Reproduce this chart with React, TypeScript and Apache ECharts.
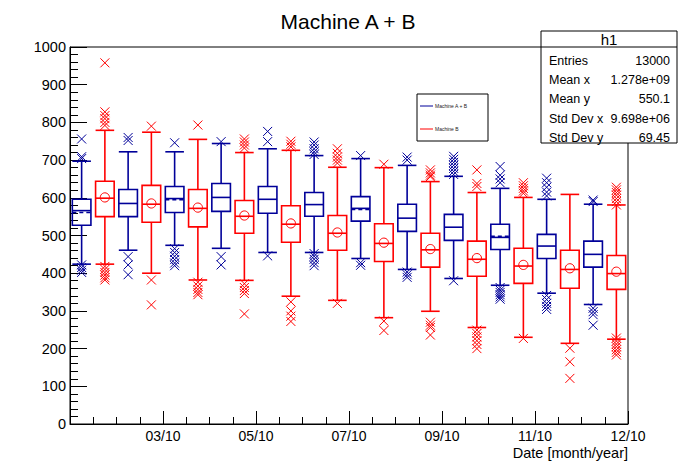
import React, { useEffect, useRef } from "react";
import * as echarts from "echarts";

// Monthly bins (Jan..Dec 2010); x axis is in months from the first bin
const months = ["01/10", "02/10", "03/10", "04/10", "05/10", "06/10", "07/10", "08/10", "09/10", "10/10", "11/10", "12/10"];
const xTickLabels = ["", "03/10", "05/10", "07/10", "09/10", "11/10", "12/10"];
const yTicks = [0, 100, 200, 300, 400, 500, 600, 700, 800, 900, 1000];

// Candle statistics: [whisker low, Q1, median, Q3, whisker high, mean]
const machineABBoxes = [
  [424, 527, 566, 596, 697, 561],
  [461, 550, 585, 622, 722, 585],
  [474, 561, 598, 630, 722, 595],
  [466, 564, 601, 638, 744, 601],
  [455, 559, 596, 630, 730, 596],
  [455, 551, 582, 614, 712, 582],
  [439, 538, 572, 603, 704, 569],
  [410, 511, 546, 583, 686, 546],
  [386, 487, 522, 556, 657, 522],
  [368, 463, 495, 530, 625, 498],
  [347, 439, 472, 503, 596, 472],
  [317, 416, 450, 485, 583, 450],
];
const machineBBoxes = [
  [424, 550, 599, 644, 779, 601],
  [400, 535, 583, 633, 774, 585],
  [382, 523, 572, 622, 755, 574],
  [381, 506, 551, 593, 720, 553],
  [339, 482, 530, 579, 726, 532],
  [328, 461, 506, 553, 681, 508],
  [282, 431, 479, 531, 680, 481],
  [299, 416, 462, 506, 643, 464],
  [256, 392, 437, 485, 614, 440],
  [230, 373, 419, 466, 601, 422],
  [214, 360, 410, 461, 609, 413],
  [225, 357, 399, 447, 581, 404],
];

// Outliers per month
const machineABOutliers = [
  [756, 709, 704, 422, 415, 408, 402],
  [760, 752, 444, 422, 396],
  [746, 465, 455, 445, 436, 427, 420],
  [749, 444, 422],
  [776, 749, 446],
  [748, 740, 730, 722, 715, 452, 445, 437, 428, 420],
  [712, 428, 421],
  [708, 700, 403, 396, 389],
  [710, 702, 694, 686, 678, 670, 662, 380],
  [683, 660, 650, 640, 362, 355, 349, 343, 337, 331],
  [652, 640, 628, 615, 605, 341, 330, 320, 312, 304],
  [594, 590, 307, 298, 290, 262],
];
const machineBOutliers = [
  [958, 828, 818, 810, 800, 792, 418, 410, 402, 395, 388, 382],
  [790, 382, 316],
  [793, 376, 366, 357, 349, 343],
  [756, 748, 740, 732, 372, 362, 354, 346, 292],
  [750, 742, 735, 324, 300, 286, 272],
  [730, 718, 708, 700, 692, 320],
  [689, 273, 248],
  [674, 666, 660, 656, 270, 262, 256, 236],
  [674, 638, 630, 249, 240, 231, 221, 211, 200],
  [640, 632, 625, 618, 612, 227],
  [201, 165, 121],
  [628, 621, 614, 607, 598, 590, 581, 228, 220, 212, 205, 197, 190, 183],
];

const statLabels = ["Entries", "Mean x", "Mean y", "Std Dev x", "Std Dev y"];
const statValues = ["13000", "1.278e+09", "550.1", "9.698e+06", "69.45"];

const seriesNames = ["Machine A + B", "Machine B"];
const BLUE = "#000099";
const RED = "#ff0000";
const FONT = "'Liberation Sans', Arial, Helvetica, sans-serif";

function candleRenderer(color: string, meanAsCircle: boolean) {
  return (params: any, api: any) => {
    const x = api.value(0);
    const low = api.value(1), q1 = api.value(2), med = api.value(3), q3 = api.value(4), high = api.value(5), mean = api.value(6);
    const cx = api.coord([x, 0])[0];
    const y = (v: number) => api.coord([x, v])[1];
    const half = api.size([0.4, 0])[0] / 2;
    const st = { stroke: color, lineWidth: 1.6, fill: "none" };
    const children: any[] = [
      { type: "line", shape: { x1: cx, y1: y(high), x2: cx, y2: y(q3) }, style: st },
      { type: "line", shape: { x1: cx, y1: y(q1), x2: cx, y2: y(low) }, style: st },
      { type: "line", shape: { x1: cx - half, y1: y(high), x2: cx + half, y2: y(high) }, style: st },
      { type: "line", shape: { x1: cx - half, y1: y(low), x2: cx + half, y2: y(low) }, style: st },
      { type: "rect", shape: { x: cx - half, y: y(q3), width: 2 * half, height: y(q1) - y(q3) }, style: st },
      { type: "line", shape: { x1: cx - half, y1: y(med), x2: cx + half, y2: y(med) }, style: st },
    ];
    if (meanAsCircle) {
      children.push({ type: "circle", shape: { cx, cy: y(mean), r: 4.6 }, style: { stroke: color, lineWidth: 1, fill: "none" } });
    } else if (Math.abs(mean - med) > 0.5) {
      children.push({
        type: "line",
        shape: { x1: cx - half, y1: y(mean), x2: cx + half, y2: y(mean) },
        style: { stroke: color, lineWidth: 1.6, lineDash: [4, 3] },
      });
    }
    return { type: "group", children };
  };
}

function crossRenderer(color: string) {
  return (params: any, api: any) => {
    const p = api.coord([api.value(0), api.value(1)]);
    const s = 4.5;
    const st = { stroke: color, lineWidth: 1 };
    return {
      type: "group",
      children: [
        { type: "line", shape: { x1: p[0] - s, y1: p[1] - s, x2: p[0] + s, y2: p[1] + s }, style: st },
        { type: "line", shape: { x1: p[0] - s, y1: p[1] + s, x2: p[0] + s, y2: p[1] - s }, style: st },
      ],
    };
  };
}

export default function App() {
  const ref = useRef<HTMLDivElement>(null);

  useEffect(() => {
    if (!ref.current) return;
    const chart = echarts.init(ref.current, undefined, { renderer: "svg" });

    const offsets = [0.25, 0.75];
    const boxSets = [machineABBoxes, machineBBoxes];
    const outlierSets = [machineABOutliers, machineBOutliers];
    const colors = [BLUE, RED];

    const series: any[] = [];
    boxSets.forEach((boxes, k) => {
      series.push({
        type: "custom",
        name: seriesNames[k],
        renderItem: candleRenderer(colors[k], k === 1),
        encode: { x: 0, y: [1, 2, 3, 4, 5, 6] },
        data: boxes.map((b, i) => [i + offsets[k], ...b]),
        z: 3,
      });
      const pts: number[][] = [];
      outlierSets[k].forEach((list, i) => list.forEach((v) => pts.push([i + offsets[k], v])));
      series.push({
        type: "custom",
        name: seriesNames[k] + " outliers",
        renderItem: crossRenderer(colors[k]),
        encode: { x: 0, y: 1 },
        data: pts,
        z: 2,
      });
    });

    const statX = 541, statY = 31, statW = 136, statH = 112;
    const statGraphics: any[] = [
      { type: "rect", z: 100, shape: { x: statX, y: statY, width: statW, height: statH }, style: { fill: "#fff", stroke: "#000", lineWidth: 1 } },
      { type: "line", z: 101, shape: { x1: statX, y1: 47, x2: statX + statW, y2: 47 }, style: { stroke: "#000", lineWidth: 1 } },
      { type: "text", z: 101, style: { text: "h1", x: statX + statW / 2, y: 39.5, textAlign: "center", textVerticalAlign: "middle", fontSize: 15, fontFamily: FONT, fill: "#000" } },
    ];
    statLabels.forEach((lab, i) => {
      const yy = 61 + i * 19.2;
      statGraphics.push({ type: "text", z: 101, style: { text: lab, x: 549, y: yy, textAlign: "left", textVerticalAlign: "middle", fontSize: 12.5, fontFamily: FONT, fill: "#000" } });
      statGraphics.push({ type: "text", z: 101, style: { text: statValues[i], x: 670, y: yy, textAlign: "right", textVerticalAlign: "middle", fontSize: 12.5, fontFamily: FONT, fill: "#000" } });
    });

    const legendGraphics: any[] = [
      { type: "rect", z: 100, shape: { x: 417, y: 94, width: 71, height: 47 }, style: { fill: "#fff", stroke: "#000", lineWidth: 1 } },
      { type: "line", z: 101, shape: { x1: 420, y1: 106, x2: 433, y2: 106 }, style: { stroke: BLUE, lineWidth: 1 } },
      { type: "text", z: 101, style: { text: seriesNames[0], x: 435, y: 106, textVerticalAlign: "middle", fontSize: 5, fontFamily: FONT, fill: "#222" } },
      { type: "line", z: 101, shape: { x1: 420, y1: 129, x2: 433, y2: 129 }, style: { stroke: RED, lineWidth: 1 } },
      { type: "text", z: 101, style: { text: seriesNames[1], x: 435, y: 129, textVerticalAlign: "middle", fontSize: 5, fontFamily: FONT, fill: "#222" } },
    ];

    chart.setOption({
      animation: false,
      backgroundColor: "#fff",
      title: {
        text: "Machine A + B",
        left: "center",
        top: 6,
        textStyle: { fontSize: 21, fontWeight: "normal", color: "#000", fontFamily: FONT },
      },
      grid: { left: 70, top: 47, width: 558, height: 377, show: true, borderColor: "#000", borderWidth: 1, backgroundColor: "transparent" },
      xAxis: {
        type: "value",
        min: 0,
        max: months.length,
        interval: 2,
        axisLine: { show: true, onZero: false, lineStyle: { color: "#000", width: 1 } },
        axisTick: { show: true, inside: true, length: 13, lineStyle: { color: "#000", width: 1 } },
        minorTick: { show: true, splitNumber: 4, length: 7, lineStyle: { color: "#000", width: 1 } },
        splitLine: { show: false },
        minorSplitLine: { show: false },
        axisLabel: {
          color: "#000",
          fontSize: 14,
          fontFamily: FONT,
          margin: 5,
          showMinLabel: true,
          showMaxLabel: true,
          formatter: (v: number) => xTickLabels[Math.round(v / 2)] ?? "",
        },
      },
      yAxis: {
        type: "value",
        min: yTicks[0],
        max: yTicks[yTicks.length - 1],
        interval: 100,
        axisLine: { show: true, lineStyle: { color: "#000", width: 1 } },
        axisTick: { show: true, inside: true, length: 17, lineStyle: { color: "#000", width: 1 } },
        minorTick: { show: true, splitNumber: 5, length: 8, lineStyle: { color: "#000", width: 1 } },
        splitLine: { show: false },
        minorSplitLine: { show: false },
        axisLabel: { color: "#000", fontSize: 14.5, fontFamily: FONT, margin: 4, formatter: (v: number) => String(v) },
      },
      series,
      graphic: [
        ...statGraphics,
        ...legendGraphics,
        {
          type: "text",
          z: 100,
          style: { text: "Date [month/year]", x: 628, y: 452.5, textAlign: "right", textVerticalAlign: "middle", fontSize: 14.5, fontFamily: FONT, fill: "#000" },
        },
      ],
    });

    return () => chart.dispose();
  }, []);

  return <div ref={ref} style={{ position: "fixed", left: 0, top: 0, width: 696, height: 472, background: "#fff" }} />;
}
